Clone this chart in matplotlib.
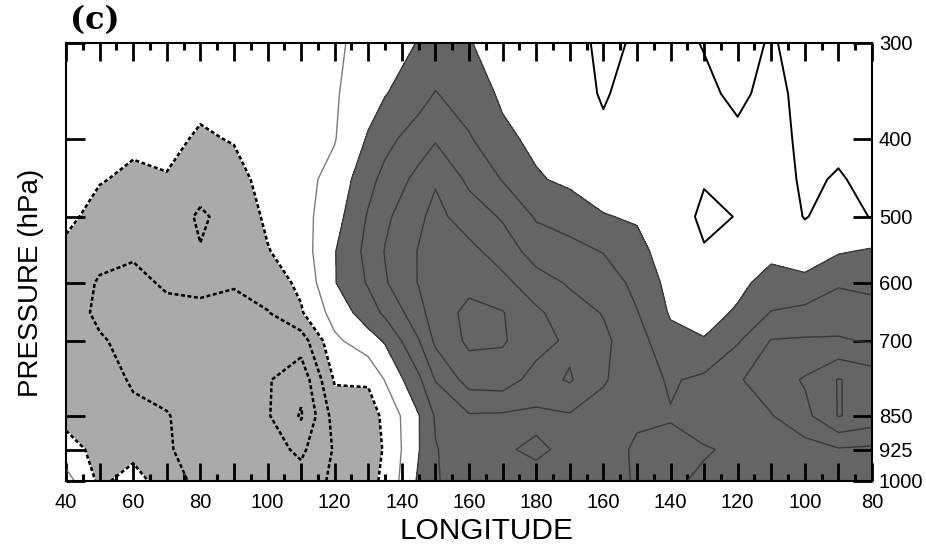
import numpy as np
import matplotlib
matplotlib.use("Agg")
import matplotlib.pyplot as plt
from matplotlib.ticker import NullLocator

# grid columns: longitude (deg E, values past 180 are drawn as the W longitudes)
lon = [40, 50, 60, 70, 80, 90, 100, 110, 120, 130, 135, 145, 150,
       160, 170, 180, 190, 200, 210, 220, 230, 240, 250, 260, 270, 280]
# grid rows: pressure levels (hPa)
pres = [300, 350, 400, 450, 500, 550, 600, 650, 700, 775, 850, 925, 1000]

# field, one list per longitude, 300 hPa down to 1000 hPa
field_by_lon = [
    [-0.3, -0.4, -0.5, -0.6, -0.8, -1.2, -1.4, -1.5, -1.5, -1.4, -1.3, -0.6, 0.4],      # 40
    [-0.4, -0.5, -0.7, -0.95, -1.3, -1.7, -2.1, -2.2, -1.9, -1.6, -1.4, -1.3, -1.2],    # 50
    [-0.4, -0.6, -0.85, -1.15, -1.5, -1.9, -2.2, -2.3, -2.3, -2.1, -1.8, -1.3, -0.6],   # 60
    [-0.3, -0.5, -0.8, -1.05, -1.4, -1.7, -1.9, -2.2, -2.4, -2.3, -1.95, -1.9, -1.5],   # 70
    [-0.5, -0.8, -1.1, -1.6, -2.15, -1.95, -1.8, -2.2, -2.3, -2.3, -2.4, -2.4, -2.3],   # 80
    [-0.5, -0.7, -0.95, -1.3, -1.6, -1.8, -1.95, -2.2, -2.3, -2.4, -2.3, -2.2, -2.1],   # 90
    [-0.2, -0.3, -0.5, -0.7, -0.85, -1.05, -1.5, -2.05, -2.6, -2.9, -2.9, -2.6, -2.3],  # 100
    [-0.3, -0.3, -0.3, -0.3, -0.35, -0.5, -0.8, -1.1, -2.5, -3.7, -4.1, -3.2, -2.6],    # 110
    [-0.1, -0.1, -0.05, 0.3, 0.6, 0.95, 0.95, 0.4, -0.2, -0.9, -1.6, -1.9, -1.8],       # 120
    [0.2, 0.6, 1.1, 1.7, 2.1, 2.3, 2.1, 1.5, 0.6, -0.9, -1.4, -1.5, -1.3],              # 130
    [0.5, 0.95, 1.7, 2.3, 2.8, 3.05, 2.9, 2.2, 1.1, 0.05, -0.8, -0.9, -0.8],            # 135
    [1.05, 1.6, 2.5, 3.3, 3.8, 4.05, 4.05, 3.6, 2.95, 1.8, 0.95, 0.95, 1.15],           # 145
    [1.3, 2.05, 2.9, 3.9, 4.3, 4.5, 4.6, 4.6, 4.2, 3.05, 2.1, 1.95, 1.95],              # 150
    [1.05, 1.5, 2.1, 2.8, 3.5, 4.3, 4.8, 5.2, 5.2, 4.4, 2.9, 2.5, 2.3],                 # 160
    [0.6, 0.85, 1.2, 1.95, 2.9, 3.5, 4.3, 5.05, 5.1, 4.5, 2.85, 2.9, 2.5],              # 170
    [0.5, 0.6, 0.8, 1.1, 1.9, 2.6, 3.4, 4.2, 4.4, 3.6, 2.8, 3.15, 2.7],                 # 180
    [0.5, 0.45, 0.5, 0.8, 1.6, 2.3, 2.9, 3.4, 3.8, 4.1, 2.9, 2.8, 2.4],                 # 170W
    [-0.3, -0.1, 0.2, 0.6, 1.05, 1.95, 2.6, 2.95, 3.2, 3.1, 2.6, 2.3, 2.2],             # 160W
    [0.15, 0.4, 0.5, 0.7, 0.9, 1.3, 1.7, 2.05, 2.4, 2.4, 2.1, 1.9, 1.95],               # 150W
    [0.3, 0.45, 0.6, 0.7, 0.8, 0.5, 0.7, 0.9, 1.3, 1.9, 2.05, 1.8, 1.9],                # 140W
    [-0.05, 0.2, 0.4, 0.1, -0.3, 0.1, 0.5, 0.7, 1.05, 2.2, 2.3, 1.95, 2.1],             # 130W
    [-0.4, -0.2, 0.2, 0.4, 0.05, 0.5, 0.8, 1.1, 1.9, 2.9, 2.6, 2.1, 2.05],              # 120W
    [0.1, 0.3, 0.5, 0.6, 0.7, 0.8, 1.3, 2.05, 3.05, 3.5, 2.95, 2.5, 2.1],               # 110W
    [-0.4, -0.3, -0.3, -0.2, -0.05, 0.6, 1.2, 2.3, 3.1, 4.1, 3.7, 2.6, 2.2],            # 100W
    [-0.5, -0.5, -0.25, 0.1, 0.4, 0.9, 1.9, 2.5, 3.1, 5.05, 5.05, 2.9, 2.3],            # 90W
    [-0.5, -0.5, -0.4, -0.3, -0.05, 1.1, 1.8, 2.3, 2.9, 4.6, 4.6, 2.8, 2.2],            # 80W
]

lon_tick_values = [40, 60, 80, 100, 120, 140, 160, 180, 200, 220, 240, 260, 280]
lon_tick_labels = ['40', '60', '80', '100', '120', '140', '160', '180',
                   '160', '140', '120', '100', '80']
pres_ticks = [300, 400, 500, 600, 700, 850, 925, 1000]

shade_levels = [-10, -1, 1, 10]
neg_levels = [-4, -3, -2, -1]
pos_levels = [1, 2, 3, 4, 5]

plt.rcParams['font.family'] = ['Liberation Sans', 'DejaVu Sans']
plt.rcParams['lines.dashed_pattern'] = [1.6, 1.0]

x = np.array(lon, dtype=float)
p = np.array(pres, dtype=float)
z = np.array(field_by_lon).T


def fwd(v):
    return np.sign(v) * np.abs(v) ** 0.19


def inv(v):
    return np.sign(v) * np.abs(v) ** (1 / 0.19)


fig = plt.figure(figsize=(9.26, 5.44), dpi=100)
ax = fig.add_axes([66 / 926, 1 - 481 / 544, (872 - 66) / 926, (481 - 43) / 544])
ax.set_yscale('function', functions=(fwd, inv))

ax.contourf(x, p, z, levels=shade_levels, colors=['#aaaaaa', 'white', '#656565'])
ax.contour(x, p, z, levels=neg_levels, colors='black', linewidths=1.8, linestyles='dashed')
ax.contour(x, p, z, levels=pos_levels, colors='#3a3a3a', linewidths=1.0, linestyles='solid')

# zero line: faint on the left part, black on the right part
k = lon.index(150)
ax.contour(x[:k + 1], p, z[:, :k + 1], levels=[0], colors='#7a7a7a', linewidths=1.0)
ax.contour(x[k:], p, z[:, k:], levels=[0], colors='black', linewidths=1.4)

ax.set_xlim(40, 280)
ax.set_ylim(1000, 300)

major = list(range(40, 281, 10))
labels = [lon_tick_labels[lon_tick_values.index(v)] if v in lon_tick_values else '' for v in major]
ax.set_xticks(major)
ax.set_xticklabels(labels)
ax.set_xticks(list(range(45, 281, 10)), minor=True)
ax.tick_params(axis='x', which='major', direction='in', length=13, width=2,
               top=True, bottom=True, labelsize=14.5, pad=9)
ax.tick_params(axis='x', which='minor', direction='in', length=5, width=2.2,
               top=True, bottom=True)

ax.set_yticks(pres_ticks)
ax.set_yticklabels([str(v) for v in pres_ticks])
ax.yaxis.set_minor_locator(NullLocator())
ax.tick_params(axis='y', which='major', direction='in', length=14, width=2,
               left=True, right=True, labelleft=False, labelright=True,
               labelsize=14.5, pad=5)

for s in ax.spines.values():
    s.set_linewidth(1.5)

fig.text(95 / 926, 1 - 21 / 544, '(c)', fontsize=23, fontweight='bold',
         family='DejaVu Serif', ha='center', va='center')
fig.text(486 / 926, 1 - 531 / 544, 'LONGITUDE', fontsize=21.5, ha='center', va='center')
fig.text(31 / 926, 1 - 283 / 544, 'PRESSURE (hPa)', fontsize=20, rotation=90,
         ha='center', va='center')

fig.savefig('out.png', dpi=100)
